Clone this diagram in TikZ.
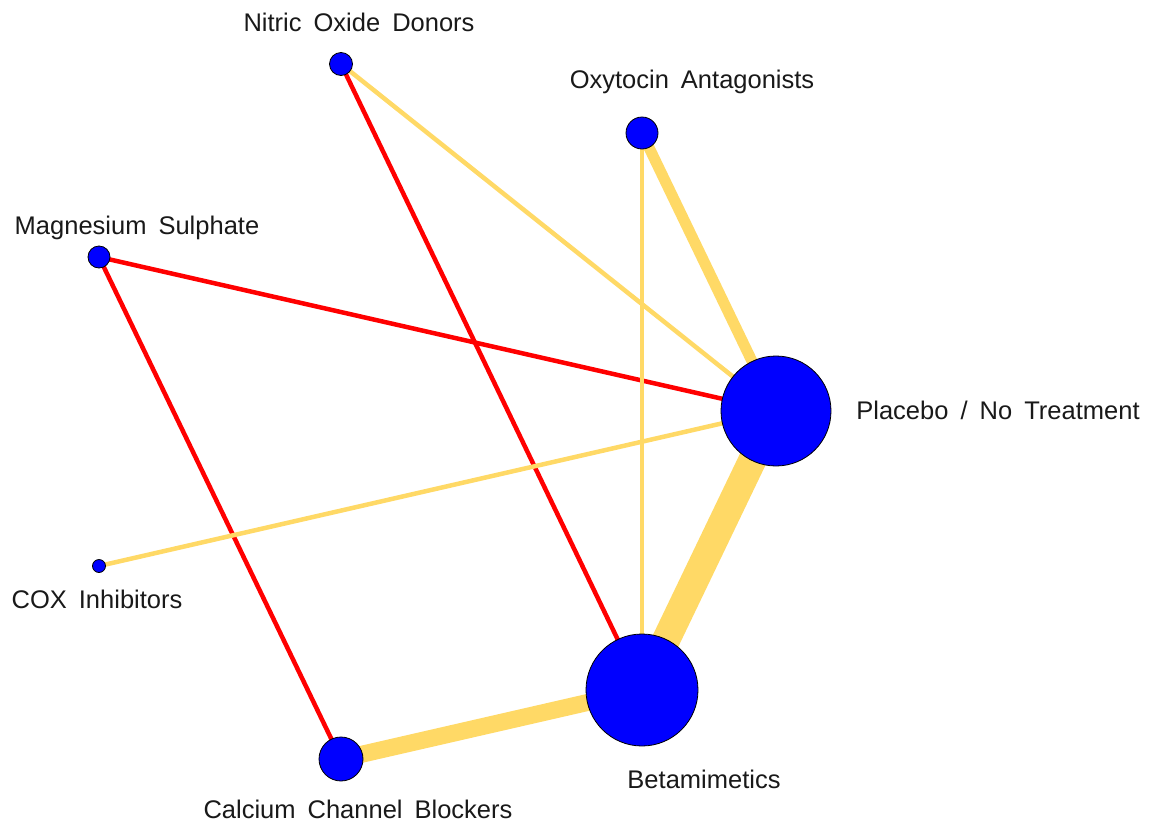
\documentclass[tikz,border=0pt]{standalone}
\usepackage{fontspec}
\setmainfont{Liberation Sans}[WordSpace=1.7]
\usetikzlibrary{positioning, backgrounds}

\definecolor{edgeyellow}{RGB}{255,217,102}
\definecolor{nodeblue}{RGB}{0,0,255}

\begin{document}
\begin{tikzpicture}[
    x=1pt, y=-1pt,
    trt_node/.style={circle, fill=nodeblue, draw=black, line width=0.8pt, inner sep=0pt},
    trt_label/.style={font=\fontsize{25.5}{30}\selectfont, text=black!90, inner sep=0pt},
    red_line/.style={red, line width=4.5pt},
    gold_line/.style={edgeyellow, line width=4.5pt}
]
    \useasboundingbox (0,0) rectangle (1149,825);

    % ======================================================================
    % BEHANDLUNGEN (Knoten)
    % ======================================================================
    \node[trt_node, minimum size=110pt] (pbo)  at (776,411) {};
    \node[trt_node, minimum size=112pt] (beta) at (642,690) {};
    \node[trt_node, minimum size=44pt]  (ccb)  at (341,759) {};
    \node[trt_node, minimum size=32pt]  (oxy)  at (642,133) {};
    \node[trt_node, minimum size=23pt]  (nod)  at (341,64) {};
    \node[trt_node, minimum size=22pt]  (mgs)  at (99,257) {};
    \node[trt_node, minimum size=13pt]  (cox)  at (99,566) {};

    % Labels
    \node[trt_label] (l_pbo)  at (998,410) {Placebo / No Treatment};
    \node[trt_label] (l_beta) at (704,779) {Betamimetics};
    \node[trt_label] (l_ccb)  at (358,809) {Calcium Channel Blockers};
    \node[trt_label] (l_oxy)  at (692,82)  {Oxytocin Antagonists};
    \node[trt_label] (l_nod)  at (359,22)  {Nitric Oxide Donors};
    \node[trt_label] (l_mgs)  at (137,228) {Magnesium Sulphate};
    \node[trt_label] (l_cox)  at (97,599)  {COX Inhibitors};

    % ======================================================================
    % VERGLEICHE (Kanten)
    % ======================================================================
    \begin{pgfonlayer}{background}
        % Rote Kanten
        \draw[red_line] (nod.center) -- (beta.center);
        \draw[red_line] (mgs.center) -- (pbo.center);
        \draw[red_line] (mgs.center) -- (ccb.center);

        % Gelbe Kanten
        \draw[gold_line] (nod.center) -- (pbo.center);
        \draw[gold_line] (oxy.center) -- (beta.center);
        \draw[gold_line] (cox.center) -- (pbo.center);
        \draw[gold_line, line width=11pt] (oxy.center) -- (pbo.center);
        \draw[gold_line, line width=17pt] (ccb.center) -- (beta.center);
        \draw[gold_line, line width=28pt] (pbo.center) -- (beta.center);
    \end{pgfonlayer}

\end{tikzpicture}
\end{document}
